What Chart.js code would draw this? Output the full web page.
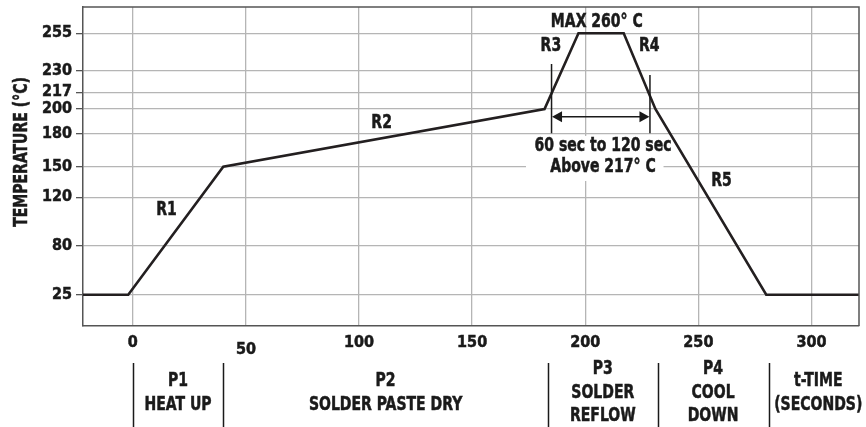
<!DOCTYPE html>
<html><head><meta charset="utf-8">
<script src="https://cdn.jsdelivr.net/npm/chart.js@4"></script>
<style>html,body{margin:0;padding:0;background:#fff}</style>
</head><body><canvas id="c" width="866" height="427"></canvas>
<script>
// ---- data ----
const timeSec = [-22, -2, 40, 182, 197, 217, 231, 280, 321];
const tempC   = [25, 25, 150, 200, 255, 255, 200, 25, 25];
const yTickLabels = [25, 80, 120, 150, 180, 200, 217, 230, 255];
const xTickLabels = [0, 50, 100, 150, 200, 250, 300];
const phaseBounds = [0, 40, 183.5, 232, 281, 325];
const phaseLabels = [['P1','HEAT UP'], ['P2','SOLDER PASTE DRY'], ['P3','SOLDER','REFLOW'], ['P4','COOL','DOWN'], ['t-TIME','(SECONDS)']];
const segmentLabels = ['R1','R2','R3','R4','R5'];
const segmentLabelTime = [14.9, 110, 184.8, 228.3, 260.2];
const segmentLabelTemp = [109.5, 189, 246.4, 246.4, 135.7];
const peakLabel = 'MAX 260° C';
const rangeLabels = ['60 sec to 120 sec', 'Above 217° C'];
const rangeStart = 185.1, rangeEnd = 228.6;

// ---- schematic (non-uniform) temperature axis ----
const knotT = [-10, 25, 80, 120, 150, 180, 200, 217, 230, 255, 272];
const knotF = [0, .0981, .2517, .4034, .4994, .6019, .6803, .7326, .7994, .9176, 1];
function warp(v){
  let i = 0;
  while (i < knotT.length - 2 && v > knotT[i+1]) i++;
  return knotF[i] + (v - knotT[i]) * (knotF[i+1]-knotF[i]) / (knotT[i+1]-knotT[i]);
}
function unwarp(d){
  let i = 0;
  while (i < knotF.length - 2 && d > knotF[i+1]) i++;
  return knotT[i] + (d - knotF[i]) * (knotT[i+1]-knotT[i]) / (knotF[i+1]-knotF[i]);
}
class WarpScale extends Chart.LinearScale {
  static id = 'warp';
  static defaults = {};
  getPixelForValue(v){ return this.getPixelForDecimal(warp(v)); }
  getValueForPixel(p){ return unwarp(this.getDecimalForPixel(p)); }
}
Chart.register(WarpScale);

const FAM = "'DejaVu Sans Condensed', 'DejaVu Sans', sans-serif";
const INK = '#1a1a1a';
const GRID = '#b5b5b5';
const FRAME = '#555';
const SX = 0.82; // horizontal condensing for annotation text

function txt(ctx, s, x, y){
  ctx.save(); ctx.translate(x, y); ctx.scale(SX, 1);
  ctx.lineWidth = 0.5; ctx.strokeText(s, 0, 0); ctx.fillText(s, 0, 0);
  ctx.restore();
}

const annot = {
  id: 'annot',
  beforeDatasetsDraw(chart){
    const {ctx, scales:{x, y}} = chart;
    const x0 = x.getPixelForValue(173.8), x1 = x.getPixelForValue(234.6);
    const y0 = y.getPixelForValue(178.2), y1 = y.getPixelForValue(136);
    ctx.save(); ctx.fillStyle = '#fff'; ctx.fillRect(x0, y0, x1 - x0, y1 - y0); ctx.restore();
  },
  afterDraw(chart){
    const {ctx, chartArea:a, scales:{x, y}} = chart;
    ctx.save();
    ctx.strokeStyle = FRAME; ctx.lineWidth = 1.5;
    ctx.beginPath(); ctx.moveTo(a.left, a.top); ctx.lineTo(a.right, a.top); ctx.lineTo(a.right, a.bottom); ctx.stroke();

    ctx.fillStyle = INK; ctx.strokeStyle = INK;
    ctx.textAlign = 'center'; ctx.textBaseline = 'middle';
    ctx.font = 'bold 19px ' + FAM;
    segmentLabels.forEach((s, i) => txt(ctx, s, x.getPixelForValue(segmentLabelTime[i]), y.getPixelForValue(segmentLabelTemp[i])));
    txt(ctx, peakLabel, x.getPixelForValue(205.1), y.getPixelForValue(262.5));
    const cx = x.getPixelForValue((rangeStart + rangeEnd) / 2 + 1);
    txt(ctx, rangeLabels[0], cx, y.getPixelForValue(168.8));
    txt(ctx, rangeLabels[1], cx, y.getPixelForValue(149.5));

    const xs = x.getPixelForValue(rangeStart), xe = x.getPixelForValue(rangeEnd);
    ctx.lineWidth = 1.5;
    ctx.beginPath();
    ctx.moveTo(xs, y.getPixelForValue(234.6)); ctx.lineTo(xs, y.getPixelForValue(180.5));
    ctx.moveTo(xe, y.getPixelForValue(227.6)); ctx.lineTo(xe, y.getPixelForValue(180.5));
    const ya = y.getPixelForValue(193.8);
    ctx.moveTo(xs + 6, ya); ctx.lineTo(xe - 6, ya);
    ctx.stroke();
    ctx.beginPath();
    ctx.moveTo(xs + 0.5, ya); ctx.lineTo(xs + 10.5, ya - 5.5); ctx.lineTo(xs + 10.5, ya + 5.5); ctx.closePath();
    ctx.moveTo(xe - 0.5, ya); ctx.lineTo(xe - 10.5, ya - 5.5); ctx.lineTo(xe - 10.5, ya + 5.5); ctx.closePath();
    ctx.fill();

    ctx.save();
    ctx.translate(22, 152); ctx.rotate(-Math.PI / 2);
    txt(ctx, 'TEMPERATURE (°C)', 0, 0);
    ctx.restore();

    ctx.lineWidth = 1.5;
    ctx.beginPath();
    for (let i = 0; i < phaseBounds.length - 1; i++) {
      const px = Math.round(x.getPixelForValue(phaseBounds[i])) + 0.5;
      ctx.moveTo(px, 363); ctx.lineTo(px, 427);
    }
    ctx.stroke();
    const lh = 23.5, mid = 393;
    phaseLabels.forEach((lines, i) => {
      const px = x.getPixelForValue((phaseBounds[i] + phaseBounds[i+1]) / 2);
      const y0 = mid - (lines.length - 1) * lh / 2;
      lines.forEach((t, j) => txt(ctx, t, px, y0 + j * lh));
    });
    ctx.restore();
  }
};

new Chart(document.getElementById('c'), {
  type: 'line',
  data: {
    datasets: [{
      data: timeSec.map((t, i) => ({x: t, y: tempC[i]})),
      borderColor: '#231f20', borderWidth: 2.6, pointRadius: 0, tension: 0, fill: false
    }]
  },
  options: {
    responsive: false, animation: false, devicePixelRatio: 1,
    layout: {padding: {top: 7, right: 7, left: 0, bottom: 0}},
    plugins: {legend: {display: false}, tooltip: {enabled: false}},
    scales: {
      x: {
        type: 'linear', min: -22, max: 321,
        afterBuildTicks: s => { s.ticks = xTickLabels.map(v => ({value: v})); },
        afterFit: s => { s.height = 101; s.paddingLeft = 0; s.paddingRight = 0; },
        grid: {color: GRID, lineWidth: 1.3, drawTicks: false},
        border: {color: FRAME, width: 1.5},
        ticks: {
          autoSkip: false, maxRotation: 0, padding: 7, color: INK,
          textStrokeColor: INK, textStrokeWidth: 0.5,
          font: c => ({family: FAM, size: 16, weight: 'bold', lineHeight: (c.tick && c.tick.value === 50) ? 2.125 : 1.2}),
          callback: v => String(v)
        }
      },
      y: {
        type: 'warp', min: -10, max: 272,
        afterBuildTicks: s => { s.ticks = yTickLabels.map(v => ({value: v})); },
        afterFit: s => { s.width = 83; s.paddingTop = 0; s.paddingBottom = 0; },
        grid: {color: GRID, lineWidth: 1.3, tickColor: FRAME, tickLength: 7},
        border: {color: FRAME, width: 1.5},
        ticks: {autoSkip: false, padding: 4, color: INK, textStrokeColor: INK, textStrokeWidth: 0.5,
          font: {family: FAM, size: 16, weight: 'bold'}, callback: v => String(v)}
      }
    }
  },
  plugins: [annot]
});
</script></body></html>
